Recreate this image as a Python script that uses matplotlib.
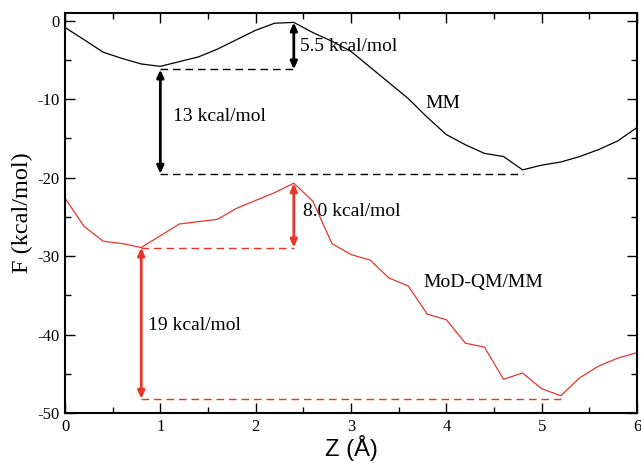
import numpy as np
import matplotlib
matplotlib.use("Agg")
import matplotlib.pyplot as plt
from matplotlib.ticker import MultipleLocator

plt.rcParams["axes.unicode_minus"] = False

# free energy profiles along Z, sampled every 0.2 A
z = [0.0, 0.2, 0.4, 0.6, 0.8, 1.0, 1.2, 1.4, 1.6, 1.8, 2.0, 2.2, 2.4, 2.6, 2.8, 3.0,
     3.2, 3.4, 3.6, 3.8, 4.0, 4.2, 4.4, 4.6, 4.8, 5.0, 5.2, 5.4, 5.6, 5.8, 6.0]
f_mm = [-0.85, -2.4, -4.0, -4.8, -5.5, -5.8, -5.2, -4.6, -3.6, -2.4, -1.2, -0.3, -0.2,
        -1.5, -2.6, -3.9, -5.9, -7.9, -9.9, -12.3, -14.5, -15.8, -16.9, -17.3, -19.0,
        -18.4, -18.0, -17.3, -16.4, -15.3, -13.6]
f_qmmm = [-22.6, -26.2, -28.1, -28.4, -28.9, -27.4, -25.9, -25.6, -25.3, -23.9, -22.9,
          -21.9, -20.7, -23.0, -28.4, -29.8, -30.5, -32.8, -33.8, -37.4, -38.1, -41.1,
          -41.6, -45.7, -44.9, -46.9, -47.8, -45.5, -44.0, -43.0, -42.3]

# barrier annotations: (z, f_top, f_bottom, label, label position)
mm_barrier = (2.4, -0.2, -6.2, "5.5 kcal/mol", (2.47, -3.3))
mm_drop = (1.0, -6.2, -19.5, "13 kcal/mol", (1.13, -12.2))
qm_barrier = (2.4, -20.7, -28.9, "8.0 kcal/mol", (2.50, -24.3))
qm_drop = (0.8, -28.9, -48.2, "19 kcal/mol", (0.87, -38.8))

# dashed reference levels: (z_start, z_end, f)
mm_levels = [(1.0, 2.4, -6.2), (1.0, 4.8, -19.5)]
qm_levels = [(0.8, 2.4, -28.9), (0.8, 5.2, -48.2)]

red = "#e8352b"
serif = ["Liberation Serif", "DejaVu Serif"]

fig = plt.figure(figsize=(6.41, 4.63), dpi=100)
ax = fig.add_axes([65/641, 1-413/463, 572/641, 400/463])

ax.plot(z, f_mm, color="black", lw=0.9)
ax.plot(z, f_qmmm, color=red, lw=0.9)

for levels, c in ((mm_levels, "black"), (qm_levels, red)):
    for z0, z1, f in levels:
        ax.plot([z0, z1], [f, f], color=c, lw=1.0, ls=(0, (5.5, 3.5)))

for zz, ftop, fbot, text, (tx, ty), c in [mm_barrier + ("black",), mm_drop + ("black",),
                                           qm_barrier + (red,), qm_drop + (red,)]:
    ax.annotate("", xy=(zz, ftop), xytext=(zz, fbot),
                arrowprops=dict(arrowstyle="<|-|>,head_length=0.45,head_width=0.2",
                                color=c, lw=2.0, shrinkA=0, shrinkB=0))
    ax.text(tx, ty, text, family=serif, fontsize=14, va="center", ha="left")

ax.text(3.96, -10.6, "MM", family=serif, fontsize=14, va="center", ha="center")
ax.text(4.39, -33.4, "MoD-QM/MM", family=serif, fontsize=14, va="center", ha="center")

ax.set_xlim(0, 6)
ax.set_ylim(-50, 1)
ax.xaxis.set_major_locator(MultipleLocator(1))
ax.xaxis.set_minor_locator(MultipleLocator(0.5))
ax.yaxis.set_major_locator(MultipleLocator(10))
ax.yaxis.set_minor_locator(MultipleLocator(5))
ax.tick_params(which="both", direction="in", top=True, right=True, width=1.0)
ax.tick_params(which="major", length=7)
ax.tick_params(which="minor", length=4)
ax.tick_params(labelsize=12, pad=4)
for lab in ax.get_xticklabels() + ax.get_yticklabels():
    lab.set_family(serif)
for sp in ax.spines.values():
    sp.set_linewidth(1.5)

ax.set_xlabel("Z (Å)", family=["Liberation Sans", "DejaVu Sans"], fontsize=17, labelpad=0)
ax.set_ylabel("F (kcal/mol)", family=serif, fontsize=17.5, labelpad=3)

fig.savefig("out.png", dpi=100)
